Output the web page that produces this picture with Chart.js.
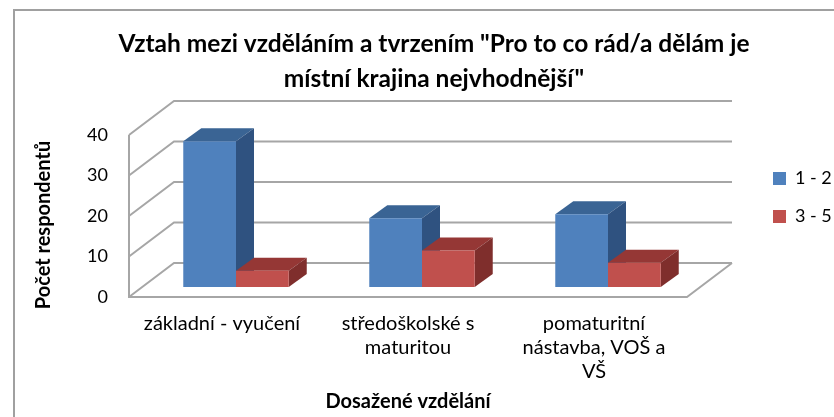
<!DOCTYPE html>
<html>
<head>
<meta charset="utf-8">
<style>
  body { margin: 0; background: #fff; }
  canvas { display: block; }
</style>
<script src="https://cdn.jsdelivr.net/npm/chart.js@4"></script>
</head>
<body>
<canvas id="chart" width="834" height="417"></canvas>
<script>
const categories = [["základní - vyučení"], ["středoškolské s", "maturitou"], ["pomaturitní", "nástavba, VOŠ a", "VŠ"]];
const series12 = [36, 17, 18];
const series35 = [4, 9, 6];
const seriesNames = ["1 - 2", "3 - 5"];
const chartTitle = ["Vztah mezi vzděláním a tvrzením \"Pro to co rád/a dělám je", "místní krajina nejvhodnější\""];

const FONT = "Lato, 'Open Sans', sans-serif";
const GRID = "#a6a6a6";
// fake 3D: how far the back wall sits from the front plane, and where bars sit in between
const wall = { x: 45, y: -34 };
const barShift = { x: 14, y: -10 };
const barDepth = { x: 18, y: -13 };
const shades = [
  { top: "#3a6494", side: "#2f5280" },
  { top: "#953735", side: "#7f2e2c" }
];

function poly(ctx, pts, fill) {
  ctx.beginPath();
  pts.forEach((p, i) => i ? ctx.lineTo(p[0], p[1]) : ctx.moveTo(p[0], p[1]));
  ctx.closePath();
  ctx.fillStyle = fill;
  ctx.fill();
}

const fake3d = {
  id: "fake3d",
  beforeLayout(chart) {
    const lg = chart.legend;
    const fit = lg.constructor.prototype.fit;
    lg.fit = function () {
      fit.call(this);
      this.width = 147;
    };
  },
  afterLayout(chart) {
    // legend and the y title do not sit where the layout wants them
    const lg = chart.legend;
    lg.left = 753;
    lg.right = 834;
    lg.top = 149.5;
    chart.scales.y.top += 9;
    chart.scales.y.bottom += 9;
  },
  beforeDraw(chart) {
    const ctx = chart.ctx;
    ctx.save();
    ctx.strokeStyle = "#a0a0a0";
    ctx.lineWidth = 2;
    ctx.beginPath();
    ctx.moveTo(14, 417);
    ctx.lineTo(14, 10);
    ctx.lineTo(834, 10);
    ctx.stroke();
    ctx.restore();
  },
  beforeDatasetsDraw(chart) {
    const { ctx, chartArea: { left, right } } = chart;
    const y = chart.scales.y;
    ctx.save();
    ctx.strokeStyle = GRID;
    ctx.lineWidth = 2;
    ctx.beginPath();
    y.ticks.forEach(t => {
      const py = y.getPixelForValue(t.value);
      ctx.moveTo(left, py);
      ctx.lineTo(left + wall.x, py + wall.y);
      ctx.lineTo(right + wall.x, py + wall.y);
    });
    // front edge of the side wall and of the floor
    const y0 = y.getPixelForValue(0);
    ctx.moveTo(left, y.getPixelForValue(40));
    ctx.lineTo(left, y0);
    ctx.lineTo(right, y0);
    ctx.lineTo(right + wall.x, y0 + wall.y);
    ctx.stroke();
    ctx.restore();
  },
  // the default pass paints the last dataset first, but red has to cover blue's side
  beforeDatasetDraw() {
    return false;
  },
  afterDatasetsDraw(chart) {
    const ctx = chart.ctx;
    chart.getSortedVisibleDatasetMetas().forEach(meta => {
      const shade = shades[meta.index];
      ctx.save();
      ctx.translate(barShift.x, barShift.y);
      meta.data.forEach(bar => {
        const x0 = bar.x - bar.width / 2;
        const x1 = bar.x + bar.width / 2;
        poly(ctx, [[x0, bar.y], [x0 + barDepth.x, bar.y + barDepth.y], [x1 + barDepth.x, bar.y + barDepth.y], [x1, bar.y]], shade.top);
        poly(ctx, [[x1, bar.y], [x1 + barDepth.x, bar.y + barDepth.y], [x1 + barDepth.x, bar.base + barDepth.y], [x1, bar.base]], shade.side);
      });
      meta.controller.draw();
      ctx.restore();
    });
  }
};

new Chart(document.getElementById("chart"), {
  type: "bar",
  data: {
    labels: categories,
    datasets: [
      { label: seriesNames[0], data: series12, backgroundColor: "#4f81bd" },
      { label: seriesNames[1], data: series35, backgroundColor: "#c0504d" }
    ]
  },
  plugins: [fake3d],
  options: {
    responsive: false,
    animation: false,
    events: [],
    barPercentage: 1,
    categoryPercentage: 0.567,
    layout: { padding: { left: 34, right: 0, top: 0, bottom: 0 } },
    plugins: {
      title: {
        display: true,
        text: chartTitle,
        color: "#000",
        font: { family: FONT, size: 24.5, weight: "bold", lineHeight: 1.43 },
        padding: { top: 27, bottom: 38 }
      },
      legend: {
        position: "right",
        align: "start",
        labels: { color: "#000", font: { family: FONT, size: 18 }, boxWidth: 13, boxHeight: 13, padding: 20 }
      },
      tooltip: { enabled: false }
    },
    scales: {
      x: {
        afterFit: s => { s.height = 120; },
        grid: { display: false },
        border: { display: false },
        ticks: { color: "#000", font: { family: FONT, size: 20, lineHeight: 1.2 }, padding: 7, maxRotation: 0, autoSkip: false },
        title: {
          display: true,
          text: "Dosažené vzdělání",
          color: "#000",
          font: { family: FONT, size: 20, weight: "bold", lineHeight: 1.25 },
          padding: { top: 0, bottom: 3 }
        }
      },
      y: {
        min: 0,
        max: 40,
        afterFit: s => { s.width = 95; },
        grid: { display: false },
        border: { display: false },
        ticks: { color: "#000", stepSize: 10, font: { family: FONT, size: 18 }, padding: 13 },
        title: {
          display: true,
          text: "Počet respondentů",
          color: "#000",
          font: { family: FONT, size: 20, weight: "bold", lineHeight: 1 },
          padding: { top: 0, bottom: 0 }
        }
      }
    }
  }
});
</script>
</body>
</html>
